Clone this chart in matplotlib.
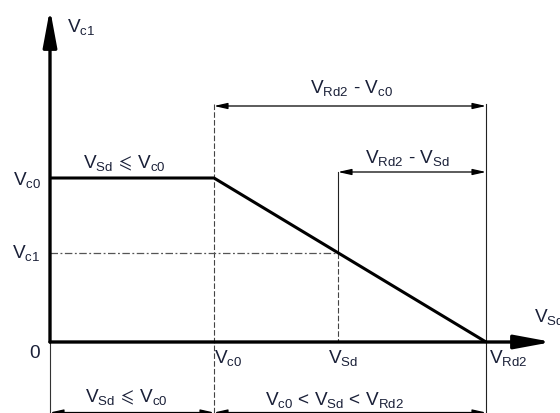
import matplotlib
matplotlib.use("Agg")
import matplotlib.pyplot as plt

plt.rcParams['font.family'] = ['Liberation Sans', 'DejaVu Sans']
plt.rcParams['mathtext.fontset'] = 'custom'
plt.rcParams['mathtext.rm'] = 'Liberation Sans'
plt.rcParams['mathtext.it'] = 'Liberation Sans'
plt.rcParams['mathtext.default'] = 'regular'
plt.rcParams['mathtext.fallback'] = 'stixsans'

# Schematic values (arbitrary units)
x_points = [0.0, 1.64, 4.36]      # 0, Vc0, VRd2 on V_Sd axis
y_points = [1.64, 1.64, 0.0]      # Vc1 curve
v_sd = 2.88                       # example V_Sd
v_c1 = 0.89                       # resulting V_c1
dim_top = 2.36                    # level of VRd2 - Vc0 dimension
dim_mid = 1.70                    # level of VRd2 - VSd dimension
dim_bot = -0.705                  # level of bottom dimensions
x_max = 5.02
y_max = 3.33

TXT = '#1a2038'
FS = 13.7

fig = plt.figure(figsize=(5.6, 4.14), dpi=100)
ax = fig.add_axes([0, 0, 1, 1])
ax.set_xlim(-0.50, 5.10)
ax.set_ylim(-0.71, 3.43)
ax.axis('off')

# axes with arrows
ax.annotate('', xy=(0, y_max), xytext=(0, 0),
            arrowprops=dict(arrowstyle='-|>,head_length=1.4,head_width=0.26',
                            lw=2.4, color='black', mutation_scale=16,
                            shrinkA=0, shrinkB=0))
ax.annotate('', xy=(x_max, 0), xytext=(0, 0),
            arrowprops=dict(arrowstyle='-|>,head_length=1.4,head_width=0.26',
                            lw=2.4, color='black', mutation_scale=16,
                            shrinkA=0, shrinkB=0))

# main curve
ax.plot(x_points, y_points, color='black', lw=2.2, solid_capstyle='butt', zorder=5)

# vertical at Vc0 (dashed)
ax.plot([x_points[1], x_points[1]], [dim_top + 0.02, -0.71], color='#444444',
        lw=0.8, dashes=(5, 2))
# vertical at V_Sd
ax.plot([v_sd, v_sd], [dim_mid, v_c1], color='#222222', lw=0.8)
ax.plot([v_sd, v_sd], [v_c1, 0], color='#444444', lw=0.8, dashes=(5, 2))
# vertical at VRd2
ax.plot([x_points[2], x_points[2]], [dim_top + 0.02, -0.71], color='#222222', lw=0.8)
# extension line at origin, below axis
ax.plot([0, 0], [0, -0.71], color='#333333', lw=0.8)

# Vc1 dash-dot
ax.plot([0, v_sd], [v_c1, v_c1], color='#555555', lw=0.9, dashes=(6, 2, 1.5, 2))

# dimension lines
dim_style = dict(arrowstyle='<|-|>,head_length=0.8,head_width=0.18',
                 lw=0.9, color='black', mutation_scale=10, shrinkA=0, shrinkB=0)
ax.annotate('', xy=(x_points[2], dim_top), xytext=(x_points[1], dim_top),
            arrowprops=dim_style)
ax.annotate('', xy=(x_points[2], dim_mid), xytext=(v_sd, dim_mid),
            arrowprops=dim_style)
ax.annotate('', xy=(x_points[1], dim_bot), xytext=(0, dim_bot),
            arrowprops=dim_style)
ax.annotate('', xy=(x_points[2], dim_bot), xytext=(x_points[1], dim_bot),
            arrowprops=dim_style)

# labels
ax.text(0.17, 3.16, r'$V_{c1}$', fontsize=FS, color=TXT, ha='left', va='center')
ax.text(-0.09, 1.63, r'$V_{c0}$', fontsize=FS, color=TXT, ha='right', va='center')
ax.text(-0.10, 0.90, r'$V_{c1}$', fontsize=FS, color=TXT, ha='right', va='center')
ax.text(-0.10, -0.10, '0', fontsize=FS, color=TXT, ha='right', va='center')
ax.text(1.64, -0.15, r'$V_{c0}$', fontsize=FS, color=TXT, ha='left', va='center')
ax.text(2.93, -0.15, r'$V_{Sd}$', fontsize=FS, color=TXT, ha='center', va='center')
ax.text(4.39, -0.15, r'$V_{Rd2}$', fontsize=FS, color=TXT, ha='left', va='center')
ax.text(4.84, 0.26, r'$V_{Sd}$', fontsize=FS, color=TXT, ha='left', va='center')

ax.text(0.74, 1.80, r'$V_{Sd}\,\leqslant\,V_{c0}$', fontsize=FS, color=TXT,
        ha='center', va='center')
ax.text(3.01, 2.55, r'$V_{Rd2}$ - $V_{c0}$', fontsize=FS, color=TXT, ha='center', va='center')
ax.text(3.57, 1.85, r'$V_{Rd2}$ - $V_{Sd}$', fontsize=FS, color=TXT, ha='center', va='center')
ax.text(0.76, -0.54, r'$V_{Sd}\,\leqslant\,V_{c0}$', fontsize=FS, color=TXT,
        ha='center', va='center')
ax.text(2.84, -0.57, r'$V_{c0}$ < $V_{Sd}$ < $V_{Rd2}$', fontsize=FS, color=TXT,
        ha='center', va='center')

fig.savefig('out.png', dpi=100)
